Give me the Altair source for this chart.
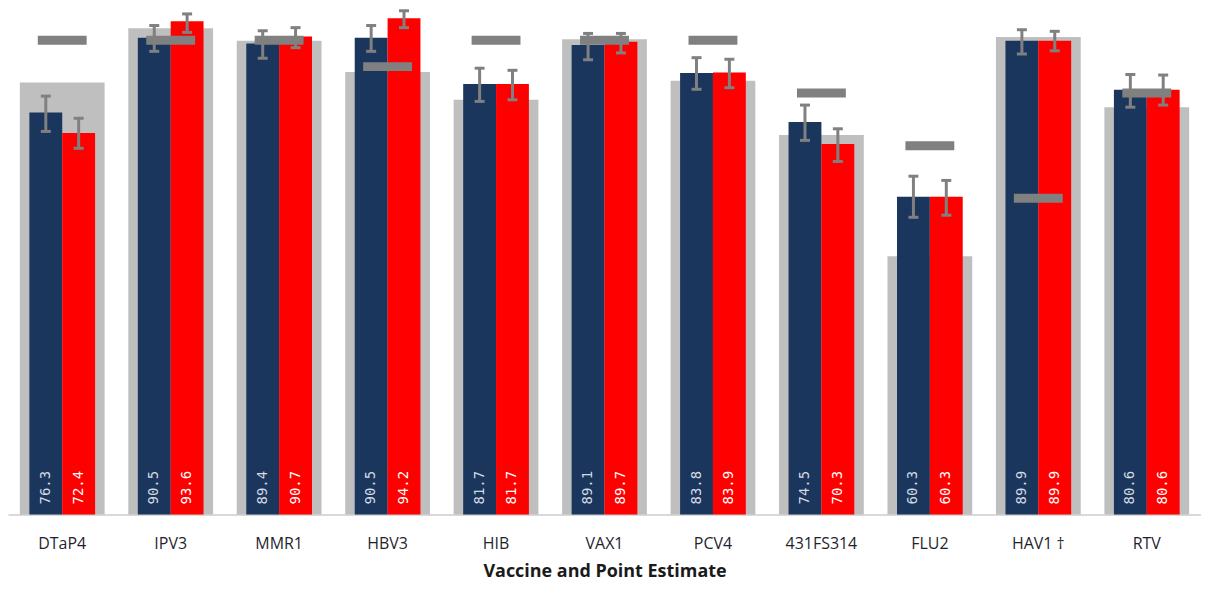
import altair as alt
import pandas as pd

categories = ["DTaP4", "IPV3", "MMR1", "HBV3", "HIB", "VAX1", "PCV4", "431FS314", "FLU2", "HAV1 †", "RTV"]
navy_values = [76.3, 90.5, 89.4, 90.5, 81.7, 89.1, 83.8, 74.5, 60.3, 89.9, 80.6]
red_values = [72.4, 93.6, 90.7, 94.2, 81.7, 89.7, 83.9, 70.3, 60.3, 89.9, 80.6]
prior_values = [82.0, 92.3, 89.9, 84.0, 78.7, 90.2, 82.3, 72.0, 49.0, 90.6, 77.3]
target_values = [90, 90, 90, 85, 90, 90, 90, 80, 70, 60, 80]
navy_lo = [72.7, 87.9, 86.6, 87.9, 78.4, 86.3, 80.7, 71.0, 56.4, 87.4, 77.3]
navy_hi = [79.4, 92.8, 91.8, 92.8, 84.7, 91.3, 86.7, 77.7, 64.2, 92.0, 83.5]
red_lo = [69.5, 91.5, 88.6, 92.4, 78.7, 87.6, 81.0, 67.0, 56.8, 88.0, 77.7]
red_hi = [75.2, 95.0, 92.4, 95.6, 84.3, 91.3, 86.4, 73.2, 63.4, 91.7, 83.4]

NAVY = "#1b365d"
RED = "#ff0000"
BG = "#bfbfbf"
MARK = "#808080"

df_cat = pd.DataFrame({"vaccine": categories, "prior": prior_values, "target": target_values})

rows = []
for i, c in enumerate(categories):
    rows.append({"vaccine": c, "series": "A", "value": navy_values[i], "lo": navy_lo[i], "hi": navy_hi[i], "txt": "#d6dbe2"})
    rows.append({"vaccine": c, "series": "B", "value": red_values[i], "lo": red_lo[i], "hi": red_hi[i], "txt": "#ffffff"})
df_ser = pd.DataFrame(rows)

x_enc = alt.X(
    "vaccine:N",
    sort=categories,
    scale=alt.Scale(paddingInner=0.394, paddingOuter=0.197),
    axis=alt.Axis(
        title="Vaccine and Point Estimate",
        labelAngle=0,
        labelFont="Open Sans",
        labelFontSize=16,
        labelColor="#1f1f2f",
        labelPadding=21,
        ticks=False,
        domainColor="#d9d9d9",
        domainWidth=2,
        titleFont="Open Sans",
        titleFontSize=18,
        titleFontWeight="bold",
        titleColor="#1a1a1a",
        titlePadding=11,
    ),
)
y_scale = alt.Scale(domain=[0, 95.8], nice=False, zero=True)
xoff = alt.XOffset("series:N", scale=alt.Scale(paddingInner=0, paddingOuter=0))

bg = alt.Chart(df_cat).mark_bar(size=85, color=BG).encode(
    x=x_enc,
    y=alt.Y("prior:Q", scale=y_scale, axis=None),
)

bars = alt.Chart(df_ser).mark_bar().encode(
    x=alt.X("vaccine:N", sort=categories),
    xOffset=xoff,
    y=alt.Y("value:Q"),
    color=alt.Color("series:N", scale=alt.Scale(domain=["A", "B"], range=[NAVY, RED]), legend=None),
)

targets = alt.Chart(df_cat).mark_tick(size=49, thickness=9, color=MARK, opacity=1, orient="horizontal").encode(
    x=alt.X("vaccine:N", sort=categories),
    y=alt.Y("target:Q"),
)

whisk = alt.Chart(df_ser).mark_rule(color=MARK, strokeWidth=3).encode(
    x=alt.X("vaccine:N", sort=categories),
    xOffset=xoff,
    y=alt.Y("lo:Q"),
    y2="hi:Q",
)
cap_lo = alt.Chart(df_ser).mark_tick(size=10, thickness=3, color=MARK, opacity=1, orient="horizontal").encode(
    x=alt.X("vaccine:N", sort=categories),
    xOffset=xoff,
    y=alt.Y("lo:Q"),
)
cap_hi = alt.Chart(df_ser).mark_tick(size=10, thickness=3, color=MARK, opacity=1, orient="horizontal").encode(
    x=alt.X("vaccine:N", sort=categories),
    xOffset=xoff,
    y=alt.Y("hi:Q"),
)

labels = alt.Chart(df_ser).mark_text(
    angle=270, align="left", baseline="middle", dx=10, font="DejaVu Sans Mono", fontSize=14
).encode(
    x=alt.X("vaccine:N", sort=categories),
    xOffset=xoff,
    y=alt.datum(0),
    text=alt.Text("value:Q", format=".1f"),
    color=alt.Color("txt:N", scale=None),
)

chart = (
    alt.layer(bg, bars, targets, whisk, cap_lo, cap_hi, labels)
    .resolve_scale(color="independent")
    .properties(width=1196, height=506, padding={"left": 0, "top": 0, "right": 0, "bottom": 2})
    .configure_view(stroke=None)
)

chart.save("out.html", embed_options={"renderer": "svg", "actions": False})
